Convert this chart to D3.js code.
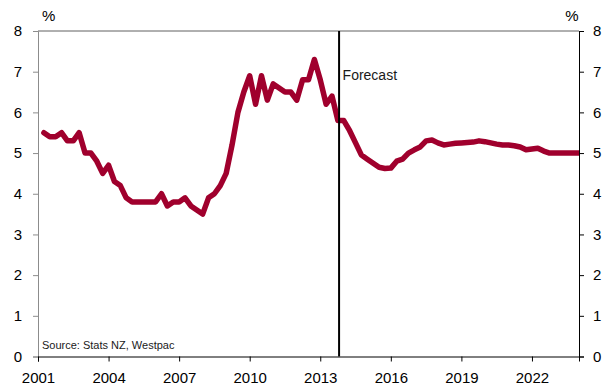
<!DOCTYPE html>
<html>
<head>
<meta charset="utf-8">
<script src="https://cdn.jsdelivr.net/npm/d3@7"></script>
<style>
  body { margin: 0; background: #fff; }
  svg { display: block; font-family: "Liberation Sans", Arial, sans-serif; }
</style>
</head>
<body>
<div id="chart"></div>
<script>
// NZ unemployment rate, quarterly, % (actual to Q3 2013, forecast after)
const firstYear = 2001;
const rate = [
    5.5, 5.4, 5.4, 5.5,
    5.3, 5.3, 5.5, 5.0,
    5.0, 4.8, 4.5, 4.7,
    4.3, 4.2, 3.9, 3.8,
    3.8, 3.8, 3.8, 3.8,
    4.0, 3.7, 3.8, 3.8,
    3.9, 3.7, 3.6, 3.5,
    3.9, 4.0, 4.2, 4.5,
    5.2, 6.0, 6.5, 6.9,
    6.2, 6.9, 6.3, 6.7,
    6.6, 6.5, 6.5, 6.3,
    6.8, 6.8, 7.3, 6.8,
    6.2, 6.4, 5.8, 5.8,
    5.55, 5.25, 4.95, 4.85,
    4.75, 4.65, 4.62, 4.63,
    4.8, 4.85, 5.0, 5.08,
    5.15, 5.3, 5.32, 5.25,
    5.2, 5.22, 5.24, 5.25,
    5.26, 5.27, 5.3, 5.28,
    5.25, 5.22, 5.2, 5.2,
    5.18, 5.15, 5.08, 5.1,
    5.12, 5.05, 5.0, 5.0,
    5.0, 5.0, 5.0, 5.0
];
const xTicks = [2001, 2004, 2007, 2010, 2013, 2016, 2019, 2022];
const yTicks = [0, 1, 2, 3, 4, 5, 6, 7, 8];
const forecastYear = 2013.8;

const width = 612, height = 385;
const plotLeft = 38, plotRight = 579, plotTop = 31, plotBottom = 356.5;

const svg = d3.select("#chart")
    .append("svg")
    .attr("width", width)
    .attr("height", height);

const x = d3.scaleLinear().domain([2001, 2024]).range([plotLeft, plotRight]);
const y = d3.scaleLinear().domain([0, 8]).range([plotBottom, plotTop]);

// quarter-end positions
const points = rate.map((v, i) => ({ t: firstYear + (i + 1) / 4, v: v }));

svg.append("clipPath").attr("id", "plot")
    .append("rect")
    .attr("x", plotLeft).attr("y", 0)
    .attr("width", plotRight - plotLeft).attr("height", height);

// top border
svg.append("line")
    .attr("x1", plotLeft).attr("x2", plotRight)
    .attr("y1", plotTop).attr("y2", plotTop)
    .attr("stroke", "#606060").attr("stroke-width", 1);

const leftAxis = svg.append("g")
    .attr("transform", `translate(${plotLeft},0)`)
    .call(d3.axisLeft(y).tickValues(yTicks).tickSize(5).tickPadding(11).tickFormat(d3.format("d")));

const rightAxis = svg.append("g")
    .attr("transform", `translate(${plotRight},0)`)
    .call(d3.axisRight(y).tickValues(yTicks).tickSize(5).tickPadding(9).tickFormat(d3.format("d")));

const bottomAxis = svg.append("g")
    .attr("transform", `translate(0,${plotBottom})`)
    .call(d3.axisBottom(x).tickValues(xTicks).tickSize(5).tickPadding(11).tickFormat(d3.format("d")));

svg.selectAll("g.tick text")
    .attr("font-size", 15)
    .attr("font-family", "Liberation Sans, Arial, sans-serif")
    .attr("fill", "#000");
svg.selectAll(".domain").attr("stroke", "#000");
leftAxis.select(".domain").attr("stroke", "#8c8c8c");
leftAxis.selectAll(".tick line").attr("stroke", "#8c8c8c");

// series line
const line = d3.line()
    .x(d => x(d.t))
    .y(d => y(d.v));

svg.append("path")
    .datum(points)
    .attr("clip-path", "url(#plot)")
    .attr("d", line)
    .attr("fill", "none")
    .attr("stroke", "#a0002d")
    .attr("stroke-width", 5.5)
    .attr("stroke-linejoin", "round")
    .attr("stroke-linecap", "round");

// forecast divider
svg.append("line")
    .attr("x1", x(forecastYear)).attr("x2", x(forecastYear))
    .attr("y1", plotTop).attr("y2", plotBottom)
    .attr("stroke", "#000").attr("stroke-width", 2);

svg.append("text")
    .attr("x", x(forecastYear) + 3.5)
    .attr("y", 80)
    .attr("font-size", 14)
    .attr("fill", "#1a1a1a")
    .text("Forecast");

svg.append("text")
    .attr("x", 42)
    .attr("y", 20.5)
    .attr("font-size", 15)
    .text("%");

svg.append("text")
    .attr("x", 578.5)
    .attr("y", 20.5)
    .attr("text-anchor", "end")
    .attr("font-size", 15)
    .text("%");

svg.append("text")
    .attr("x", 42)
    .attr("y", 349)
    .attr("font-size", 11)
    .attr("fill", "#1a1a1a")
    .text("Source: Stats NZ, Westpac");
</script>
</body>
</html>
